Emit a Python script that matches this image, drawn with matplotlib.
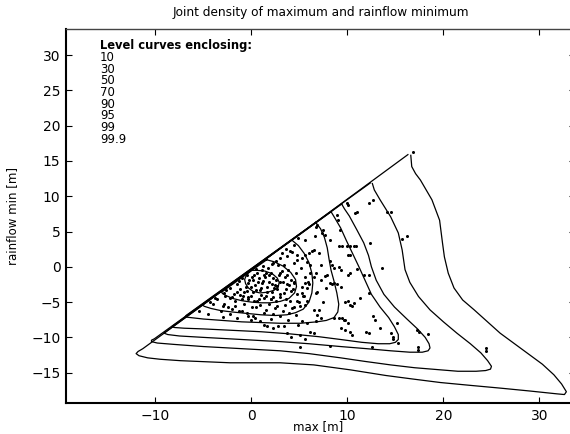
import matplotlib
matplotlib.use("Agg")
import matplotlib.pyplot as plt

plt.rcParams['font.family'] = ['DejaVu Sans']

# level curves (percent of mass enclosed)
levels = ['10', '30', '50', '70', '90', '95', '99', '99.9']

c10_x = [0.0, 0.6, 1.4, 2.2, 2.7, 2.9, 2.8, 2.4, 1.7, 0.9, 0.2, -0.3, -0.6, -0.7, -0.5, 0.0]
c10_y = [-0.5, -0.5, -0.6, -1.0, -1.6, -2.2, -2.8, -3.3, -3.6, -3.7, -3.5, -3.0, -2.4, -1.8, -1.1, -0.5]

c30_x = [1.6, 2.4, 3.3, 4.1, 4.6, 4.7, 4.5, 3.9, 3.0, 2.0, 1.0, 0.0, -1.0, -1.9, -2.6, -3.0, -3.1, -2.9, 1.6]
c30_y = [1.0, 0.7, 0.1, -0.8, -1.8, -2.8, -3.7, -4.5, -4.9, -5.1, -5.1, -5.0, -4.8, -4.5, -4.1, -3.8, -3.6, -3.4, 1.0]

c50_x = [4.2, 4.9, 5.5, 6.0, 6.3, 6.4, 6.3, 6.0, 5.4, 4.6, 3.7, 2.5, 1.0, -0.5, -2.0, -3.2, -4.2, -4.9, -5.1,
         -4.9, 4.2]
c50_y = [3.8, 3.0, 1.9, 0.6, -0.9, -2.3, -3.7, -5.0, -6.0, -6.5, -6.8, -6.9, -6.8, -6.6, -6.4, -6.2, -5.9, -5.6,
         -5.4, -5.2, 3.8]

c70_x = [6.7, 7.2, 7.6, 7.9, 8.1, 8.3, 8.6, 8.9, 9.1, 9.0, 8.6, 7.8, 6.8, 5.1, 3.0, 1.0, -1.0, -3.0, -5.0,
         -6.3, -6.9, -6.8, 6.7]
c70_y = [6.3, 5.4, 4.2, 2.7, 1.0, -0.5, -2.0, -3.7, -5.3, -6.4, -7.2, -7.6, -7.8, -8.0, -8.0, -7.9, -7.8, -7.6,
         -7.4, -7.2, -7.1, -6.9, 6.3]

c90_x = [8.3, 8.7, 9.3, 9.9, 10.5, 11.2, 11.8, 12.5, 13.4, 14.3, 14.9, 15.3, 15.3, 15.0, 14.4, 13.2, 11.5, 9.3,
         7.0, 4.0, 1.0, -2.0, -5.0, -7.0, -8.0, -8.3, -8.1, 8.3]
c90_y = [7.8, 6.9, 5.5, 3.7, 2.0, 0.0, -1.8, -3.9, -5.7, -7.2, -8.5, -9.6, -10.3, -10.7, -10.9, -10.9, -10.7,
         -10.3, -9.9, -9.5, -9.2, -9.0, -8.8, -8.7, -8.6, -8.5, -8.3, 7.8]

c95_x = [9.4, 9.7, 10.2, 11.0, 11.7, 12.2, 12.5, 13.0, 13.8, 14.9, 16.2, 17.3, 18.1, 18.5, 18.6, 18.4, 17.8,
         16.5, 14.5, 12.0, 9.3, 6.0, 3.0, -1.0, -5.0, -7.5, -8.7, -9.1, -8.9, 9.4]
c95_y = [8.9, 8.2, 7.2, 5.2, 3.4, 1.6, 0.0, -1.9, -3.9, -5.7, -7.4, -8.8, -10.0, -10.9, -11.5, -11.9, -12.1,
         -12.1, -11.9, -11.6, -11.3, -10.9, -10.6, -10.3, -10.0, -9.8, -9.6, -9.4, -9.2, 8.9]

c99_x = [12.6, 12.8, 13.4, 14.5, 15.3, 15.7, 16.0, 16.5, 17.4, 18.6, 20.0, 21.4, 22.8, 23.9, 24.6, 25.0, 24.9,
         24.4, 23.4, 21.5, 19.7, 17.0, 14.5, 11.8, 9.3, 6.0, 3.0, -1.0, -5.0, -8.0, -9.8, -10.4, -10.4, -10.1,
         12.4]
c99_y = [11.8, 10.9, 9.5, 7.1, 4.8, 2.4, -0.4, -2.2, -4.2, -6.1, -7.8, -9.4, -10.9, -12.2, -13.3, -14.1, -14.5,
         -14.7, -14.8, -14.8, -14.6, -14.3, -13.9, -13.4, -12.9, -12.3, -11.9, -11.6, -11.3, -11.0, -10.8, -10.6,
         -10.4, -10.2, 11.9]

c999_x = [16.6, 16.7, 17.1, 17.6, 18.8, 19.6, 19.9, 20.1, 20.5, 21.1, 22.0, 23.2, 25.9, 28.7, 30.3, 31.5, 32.3,
          32.8, 32.6, 31.8, 29.0, 26.0, 22.8, 19.7, 16.8, 14.0, 10.3, 6.5, 3.0, -2.2, -7.4, -9.5, -10.8, -11.7,
          -12.0, -11.8, -11.3, 0.0, 16.3]
c999_y = [15.8, 14.2, 13.2, 12.3, 9.5, 6.6, 3.4, 1.4, -0.9, -3.0, -4.7, -6.1, -9.4, -12.2, -13.8, -15.3, -16.6,
          -17.7, -18.1, -18.0, -17.6, -17.2, -16.8, -16.4, -15.9, -15.4, -14.6, -13.9, -13.6, -13.6, -13.3, -13.1,
          -12.9, -12.6, -12.3, -12.0, -11.6, -0.4, 15.9]

curves_x = [c10_x, c30_x, c50_x, c70_x, c90_x, c95_x, c99_x, c999_x]
curves_y = [c10_y, c30_y, c50_y, c70_y, c90_y, c95_y, c99_y, c999_y]

# observed (max, rainflow min) pairs, grouped by region of the plot
far_max = [16.8, 12.7, 12.3, 10.0, 10.1, 10.8, 11.0, 14.1, 14.5, 16.2,
           15.7, 10.0, 10.3, 10.7, 10.9, 9.4, 9.1, 10.1, 10.3, 12.4,
           13.6, 11.0, 10.1, 10.3, 11.7, 12.3, 9.3, 12.3, 9.8, 10.1,
           10.3, 10.7, 10.5, 11.3, 12.7, 9.4, 9.8, 10.1, 13.4, 15.2,
           10.3, 10.5, 11.9, 12.3, 14.5, 14.7, 14.7, 15.3, 17.2, 17.5,
           18.4, 12.6, 17.3, 17.3, 24.4, 24.4, 12.9, 9.3, 9.8, 9.6]
far_min = [16.2, 9.5, 9.1, 9.0, 8.7, 7.6, 7.8, 7.7, 7.8, 4.4,
           3.9, 2.9, 2.9, 2.9, 3.0, 3.0, 3.0, 1.7, 1.7, 3.4,
           -0.1, -0.3, -1.1, -0.9, -1.1, -1.1, -2.8, -3.7, -5.0, -4.9,
           -5.4, -5.1, -5.5, -4.4, -6.9, -7.3, -7.6, -7.9, -8.6, -8.0,
           -9.3, -9.7, -9.3, -9.4, -9.4, -9.9, -10.3, -10.8, -9.0, -9.2,
           -9.5, -11.4, -11.3, -11.8, -11.5, -12.0, -7.5, -8.7, -8.9, -7.5]

mid_max = [8.9, 9.0, 6.8, 6.7, 7.5, 7.4, 7.7, 8.2, 5.6, 6.5,
           6.3, 6.0, 5.6, 5.3, 9.2, 5.8, 6.1, 8.2, 8.4, 8.6,
           9.1, 9.3, 6.1, 6.7, 6.5, 7.7, 7.9, 8.2, 8.4, 8.6,
           8.9, 5.6, 6.0, 5.3, 6.8, 6.7, 5.3, 5.4, 5.8, 5.6,
           5.1, 6.5, 7.0, 8.6, 9.1, 7.2, 6.7, 5.8, 5.3, 6.1,
           6.5, 5.1, 5.6, 8.2, 5.1]
mid_min = [7.4, 6.6, 5.9, 5.7, 5.2, 4.8, 4.5, 3.8, 3.8, 2.4,
           2.2, 1.9, 1.7, 1.2, 5.2, 0.7, 0.3, 0.8, 0.3, -0.2,
           0.0, -0.4, -0.9, -0.9, -1.4, -1.3, -1.1, -2.3, -2.5, -2.3,
           -2.5, -2.3, -2.5, -2.8, -3.5, -3.7, -3.7, -4.2, -4.9, -5.4,
           -5.6, -6.1, -6.1, -7.3, -7.3, -7.3, -7.7, -8.0, -7.7, -9.2,
           -9.4, -9.6, -10.3, -11.2, -11.3]

core_max = [4.9, 4.4, 4.0, 4.7, 3.7, 3.0, 2.6, 2.3, 3.4, 4.4,
            1.7, 1.1, 0.6, 0.1, 0.2, 0.8, 1.3, 2.0, 2.3, 3.0,
            3.7, 4.6, -0.3, -0.6, 0.4, 1.1, 1.8, 2.5, 3.0, 3.7,
            4.4, -1.5, -1.2, -0.5, 0.2, 0.9, 1.6, 2.2, 2.7, 3.4,
            4.1, 4.8, -2.2, -1.7, -1.0, -0.3, 0.6, 1.3, 2.0, 3.0,
            4.0, 4.7, -2.9, -2.4, -1.7, -0.8, 0.1, 0.9, 1.8, 2.7,
            3.5, 4.4, -3.2, -2.2, -1.3, -0.5, 0.2, 1.3, 2.3, 3.0,
            3.9, 4.6]
core_min = [4.1, 3.1, 2.2, 1.7, 1.5, 1.2, 0.8, 0.5, 0.3, 0.5,
            -0.2, -0.4, -0.9, -1.4, -1.8, -1.6, -1.1, -0.9, -1.6, -0.9,
            -1.1, -0.9, -2.3, -2.8, -2.6, -2.3, -2.1, -2.6, -2.1, -2.4,
            -2.2, -3.5, -4.0, -3.4, -3.6, -3.3, -3.5, -3.6, -3.2, -3.7,
            -3.4, -3.8, -4.4, -4.8, -4.6, -4.3, -4.8, -4.4, -4.6, -4.3,
            -4.8, -4.9, -5.3, -5.7, -5.5, -5.3, -5.7, -5.4, -5.2, -5.6,
            -5.4, -5.7, -6.3, -6.7, -6.2, -6.6, -6.9, -6.5, -6.7, -6.9,
            -6.5, -6.8]

low_max = [-0.4, 0.4, 0.9, 1.3, 1.6, 2.3, 2.8, 3.4, 3.7, 4.1, 4.9, -2.9, -2.7, -4.0, -3.6]
low_min = [-7.0, -7.3, -7.7, -8.2, -8.4, -8.7, -8.4, -8.4, -9.4, -9.9, -8.2, -3.7, -4.2, -5.3, -4.6]

inner_max = [0.3, 0.7, 1.4, 1.6, 2.1, 2.6, 0.0, 1.0, 2.4, 1.8, 0.5, 1.2, 2.7, -0.2, 1.5]
inner_min = [-1.1, -2.2, -1.5, -2.8, -2.4, -1.9, -2.9, -3.0, -3.0, -1.2, -3.3, -2.0, -2.7, -1.9, -0.9]

ring_max = [-1.0, -1.5, -2.2, -1.8, -0.9, 0.0, 0.8, 1.5, 2.3, 3.0,
            3.6, 3.9, 4.1, 3.5, 3.2, 2.8, 2.1, 1.2, 0.5, -0.5,
            -1.3, -2.6, 3.3, 4.3, 2.0, -0.4, -1.2, 3.8, 2.9, 4.4,
            1.0, -2.0, 0.3, 2.6, 3.6, -0.8]
ring_min = [-1.6, -2.4, -3.0, -3.9, -4.2, -4.1, -4.5, -4.1, -4.3, -3.9,
            -3.2, -2.6, -1.8, -1.4, -0.6, 0.3, 0.4, 0.1, -0.3, -1.2,
            -2.0, -3.3, -2.2, -3.1, -4.6, -4.6, -3.2, -0.5, -1.1, -2.3,
            -4.0, -4.3, -4.8, -4.8, -4.5, -3.6]

band_max = [-3.8, -4.3, -3.0, -2.0, -1.0, 0.5, 1.5, 2.5, 3.3, 4.2,
            5.0, 5.5, 5.8, 5.6, 5.2, 4.8, 4.2, 3.6, 3.2, 5.9,
            -5.5, -4.5, -3.0, -1.5, 0.0, 2.0, 3.8, 6.8, 7.5, 7.8,
            7.2, 7.3, 7.0, 6.6]
band_min = [-4.4, -5.0, -5.6, -6.0, -6.2, -5.7, -6.1, -5.9, -6.2, -5.8,
            -5.0, -4.2, -3.0, -1.5, -0.2, 0.9, 2.1, 2.5, 1.9, -2.2,
            -6.3, -6.7, -7.1, -7.3, -7.5, -7.4, -7.5, -6.8, -5.0, -3.0,
            -1.8, 0.2, 2.0, 4.4]

obs_max = far_max + mid_max + core_max + low_max + inner_max + ring_max + band_max
obs_min = far_min + mid_min + core_min + low_min + inner_min + ring_min + band_min

fig = plt.figure(figsize=(5.7, 4.34), dpi=100)
ax = fig.add_axes([0.1158, 0.0714, 0.893, 0.8618])

for cx, cy in zip(curves_x, curves_y):
    ax.plot(cx, cy, color='black', lw=0.9)

ax.plot(obs_max, obs_min, linestyle='none', marker='o', ms=2.2, mfc='black', mec='black', mew=0)

ax.set_xlim(-19.3, 33.7)
ax.set_ylim(-19.3, 33.7)
ax.set_xticks([-10, 0, 10, 20, 30])
ax.set_yticks([-15, -10, -5, 0, 5, 10, 15, 20, 25, 30])
ax.tick_params(direction='in', length=4, width=0.8, labelsize=10, top=True, right=True, pad=4)

for side in ['left', 'bottom']:
    ax.spines[side].set_linewidth(1.5)
ax.spines['top'].set_linewidth(1.0)
ax.spines['top'].set_color('#444444')

ax.set_title('Joint density of maximum and rainflow minimum', fontsize=8.7, pad=9)
ax.set_xlabel('max [m]', fontsize=8.5)
ax.xaxis.set_label_coords(0.495, -0.045)
ax.set_ylabel('rainflow min [m]', fontsize=8.5)
ax.yaxis.set_label_coords(-0.093, 0.5)

ax.text(0.067, 0.955, 'Level curves enclosing:', transform=ax.transAxes, fontsize=8.3,
        fontweight='bold', va='center')
for i, lev in enumerate(levels):
    ax.text(0.067, 0.924 - i * 0.0313, lev, transform=ax.transAxes, fontsize=8.5, va='center')

fig.savefig('out.png', dpi=100)
